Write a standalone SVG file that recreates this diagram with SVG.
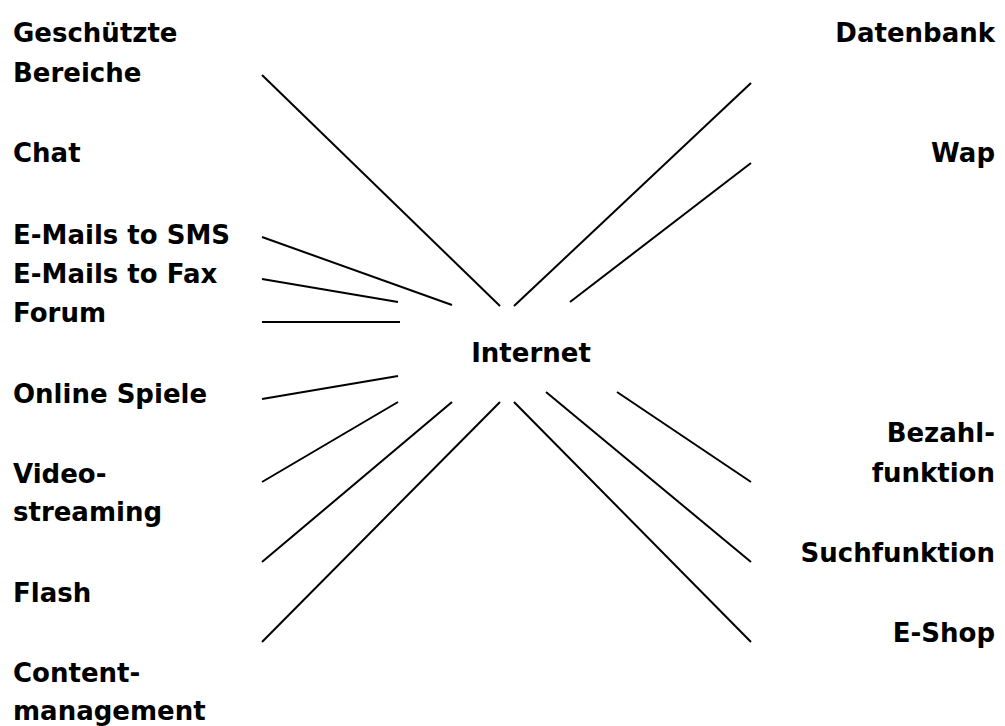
<svg xmlns="http://www.w3.org/2000/svg" width="1005" height="726" viewBox="0 0 1005 726">
<style>
text{font-family:"DejaVu Sans","Open Sans","Liberation Sans",sans-serif;font-weight:700;font-size:26px;fill:#000}
.r{text-anchor:end}
.c{text-anchor:middle}
#connectors line{stroke:#000;stroke-width:2;stroke-linecap:butt}
</style>
<rect width="1005" height="726" fill="#fff"/>
<g id="connectors">
<line x1="262" y1="75" x2="500" y2="306"/>
<line x1="262" y1="237" x2="452" y2="305"/>
<line x1="262" y1="279" x2="398" y2="302"/>
<line x1="262" y1="322" x2="400" y2="322"/>
<line x1="262" y1="399" x2="398" y2="376"/>
<line x1="262" y1="482" x2="398" y2="402"/>
<line x1="262" y1="562" x2="452" y2="402"/>
<line x1="262" y1="642" x2="500" y2="402"/>
<line x1="514" y1="306" x2="751" y2="83"/>
<line x1="570" y1="302" x2="751" y2="163"/>
<line x1="617" y1="392" x2="751" y2="482"/>
<line x1="546" y1="392" x2="751" y2="562"/>
<line x1="514" y1="402" x2="751" y2="642"/>
</g>
<g id="internet"><text class="c" x="531" y="362">Internet</text></g>
<g id="geschuetzte"><text x="13" y="42">Geschützte</text><text x="13" y="82">Bereiche</text></g>
<g id="chat"><text x="13" y="162">Chat</text></g>
<g id="sms"><text x="13" y="244">E-Mails to SMS</text></g>
<g id="fax"><text x="13" y="283">E-Mails to Fax</text></g>
<g id="forum"><text x="13" y="322">Forum</text></g>
<g id="spiele"><text x="13" y="403">Online Spiele</text></g>
<g id="video"><text x="13" y="483">Video-</text><text x="13" y="521">streaming</text></g>
<g id="flash"><text x="13" y="602">Flash</text></g>
<g id="content"><text x="13" y="682">Content-</text><text x="13" y="720">management</text></g>
<g id="datenbank"><text class="r" x="995" y="42">Datenbank</text></g>
<g id="wap"><text class="r" x="995" y="162">Wap</text></g>
<g id="bezahl"><text class="r" x="995" y="442">Bezahl-</text><text class="r" x="995" y="482">funktion</text></g>
<g id="such"><text class="r" x="995" y="562">Suchfunktion</text></g>
<g id="eshop"><text class="r" x="995" y="642">E-Shop</text></g>
</svg>
